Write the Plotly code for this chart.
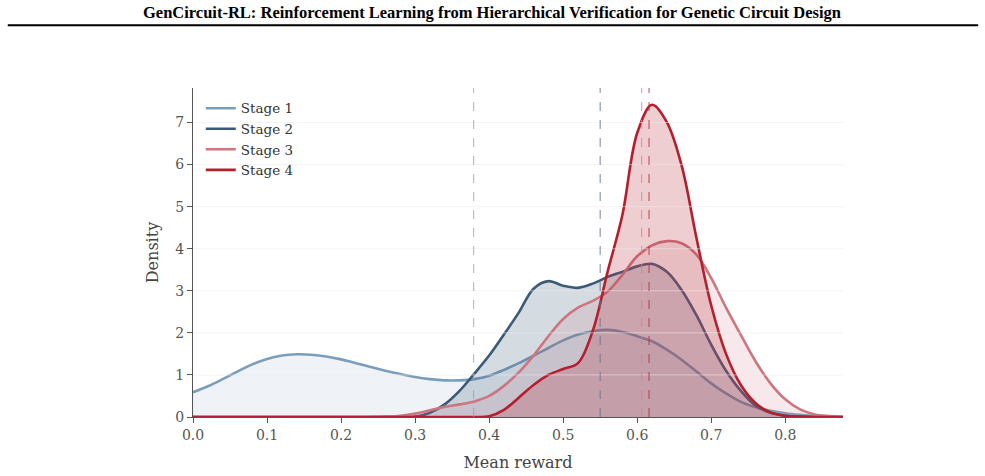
import plotly.graph_objects as go

# ---------------- data ----------------
x_grid = [0.00, 0.02, 0.04, 0.06, 0.08, 0.10, 0.12, 0.14, 0.16, 0.18,
          0.20, 0.22, 0.24, 0.26, 0.28, 0.30, 0.32, 0.34, 0.36, 0.38,
          0.40, 0.42, 0.44, 0.46, 0.48, 0.50, 0.52, 0.54, 0.56, 0.58,
          0.60, 0.62, 0.64, 0.66, 0.68, 0.70, 0.72, 0.74, 0.76, 0.78,
          0.80, 0.82, 0.84, 0.86, 0.88]

stage1 = [0.59, 0.73, 0.90, 1.08, 1.25, 1.38, 1.46, 1.49, 1.48, 1.44,
          1.37, 1.28, 1.19, 1.10, 1.02, 0.95, 0.90, 0.87, 0.87, 0.90,
          0.98, 1.12, 1.28, 1.46, 1.64, 1.82, 1.96, 2.04, 2.07, 2.02,
          1.92, 1.80, 1.60, 1.36, 1.08, 0.80, 0.56, 0.36, 0.23, 0.15,
          0.09, 0.05, 0.02, 0.01, 0.00]

stage2 = [0.00, 0.00, 0.00, 0.00, 0.00, 0.00, 0.00, 0.00, 0.00, 0.00,
          0.00, 0.00, 0.00, 0.00, 0.00, 0.01, 0.10, 0.30, 0.62, 1.03,
          1.46, 1.96, 2.48, 3.05, 3.23, 3.12, 3.07, 3.17, 3.33, 3.45,
          3.58, 3.64, 3.45, 3.02, 2.42, 1.72, 1.10, 0.62, 0.27, 0.10,
          0.03, 0.01, 0.00, 0.00, 0.00]

stage3 = [0.00, 0.00, 0.00, 0.00, 0.00, 0.00, 0.00, 0.00, 0.00, 0.00,
          0.00, 0.00, 0.00, 0.01, 0.03, 0.08, 0.16, 0.24, 0.30, 0.37,
          0.50, 0.74, 1.06, 1.46, 1.92, 2.33, 2.60, 2.76, 2.98, 3.38,
          3.82, 4.08, 4.18, 4.13, 3.86, 3.30, 2.60, 1.95, 1.32, 0.80,
          0.42, 0.18, 0.06, 0.02, 0.00]

stage4 = [0.00, 0.00, 0.00, 0.00, 0.00, 0.00, 0.00, 0.00, 0.00, 0.00,
          0.00, 0.00, 0.00, 0.00, 0.00, 0.00, 0.00, 0.00, 0.00, 0.00,
          0.02, 0.17, 0.46, 0.76, 1.00, 1.14, 1.28, 2.05, 3.45, 4.80,
          6.75, 7.42, 7.01, 5.98, 4.26, 2.65, 1.50, 0.76, 0.33, 0.11,
          0.03, 0.01, 0.00, 0.00, 0.00]

series_names = ["Stage 1", "Stage 2", "Stage 3", "Stage 4"]
series_values = [stage1, stage2, stage3, stage4]
stage_means = [0.379, 0.550, 0.606, 0.616]

x_ticks = [0.0, 0.1, 0.2, 0.3, 0.4, 0.5, 0.6, 0.7, 0.8]
y_ticks = [0, 1, 2, 3, 4, 5, 6, 7]

# ---------------- style ----------------
line_colors = ["#7a9eba", "#3c5a78", "#cc7680", "#b41f2e"]
fill_colors = ["rgba(122,158,186,0.12)", "rgba(60,90,120,0.22)",
               "rgba(204,118,128,0.16)", "rgba(180,31,46,0.22)"]
mean_colors = ["rgba(140,165,190,0.7)", "rgba(105,118,140,0.75)",
               "rgba(214,130,140,0.7)", "rgba(190,50,60,0.75)"]
SERIF = "DejaVu Serif"

fig = go.Figure()
for name, vals, lc, fc in zip(series_names, series_values, line_colors, fill_colors):
    fig.add_trace(go.Scatter(
        x=x_grid, y=vals, name=name, mode="lines", showlegend=False,
        line=dict(color=lc, width=2.6, shape="spline", smoothing=1.0),
        fill="tozeroy", fillcolor=fc,
    ))
# legend entries (line only, like the reference)
for name, lc in zip(series_names, line_colors):
    fig.add_trace(go.Scatter(x=[None], y=[None], name=name, mode="lines",
                             line=dict(color=lc, width=2.6)))

shapes = []
for yt in y_ticks[1:]:
    shapes.append(dict(type="line", xref="paper", yref="y", x0=0, x1=1, y0=yt, y1=yt,
                       line=dict(color="rgba(235,235,235,0.55)", width=1), layer="above"))
for m, c in zip(stage_means, mean_colors):
    shapes.append(dict(type="line", xref="x", yref="paper", x0=m, x1=m, y0=0, y1=1,
                       line=dict(color=c, width=1.2, dash="dash"), layer="above"))
# header rule
shapes.append(dict(type="line", xref="paper", yref="paper",
                   x0=-0.285, x1=1.208, y0=1.191, y1=1.191,
                   line=dict(color="black", width=2)))
fig.update_layout(shapes=shapes)

fig.add_annotation(
    text="<b>GenCircuit-RL: Reinforcement Learning from Hierarchical Verification for Genetic Circuit Design</b>",
    xref="paper", yref="paper", x=0.46, y=1.228, xanchor="center", yanchor="middle",
    showarrow=False, font=dict(family="Liberation Serif", size=16.5, color="black"))

fig.update_layout(
    width=985, height=476,
    margin=dict(l=193, r=142, t=88, b=59),
    paper_bgcolor="white", plot_bgcolor="white",
    font=dict(family=SERIF, color="#444"),
    showlegend=True,
    legend=dict(x=0.012, y=0.985, xanchor="left", yanchor="top",
                bgcolor="rgba(0,0,0,0)", font=dict(family=SERIF, size=13.5, color="#333"),
                tracegroupgap=0, itemwidth=30),
    xaxis=dict(range=[0, 0.878], tickvals=x_ticks, tickformat=".1f", automargin=False,
               showgrid=False, zeroline=False, showline=True, linecolor="#555", linewidth=1.2,
               ticks="outside", ticklen=5, tickcolor="#555",
               tickfont=dict(family=SERIF, size=14, color="#555"),
               title=dict(text="Mean reward", font=dict(family=SERIF, size=16, color="#444"), standoff=14)),
    yaxis=dict(range=[0, 7.82], tickvals=y_ticks, automargin=False,
               showgrid=False, zeroline=False, showline=True, linecolor="#555", linewidth=1.2,
               ticks="outside", ticklen=5, tickcolor="#555",
               tickfont=dict(family=SERIF, size=14, color="#555"),
               title=dict(text="Density", font=dict(family=SERIF, size=16, color="#444"), standoff=12)),
)

fig.write_html("out.html")
